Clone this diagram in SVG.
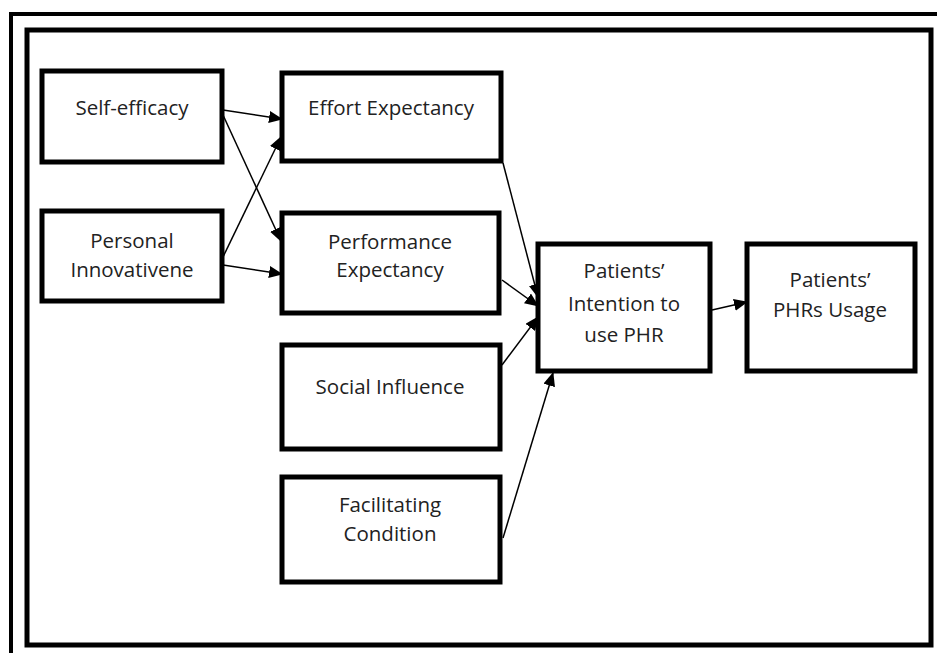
<svg xmlns="http://www.w3.org/2000/svg" width="937" height="653" viewBox="0 0 937 653">
<style>
.box{fill:#fff;stroke:#000;stroke-width:5}
.lbl{font-family:"Open Sans","Noto Sans","Liberation Sans",sans-serif;font-size:20.5px;fill:#222;text-anchor:middle}
.con{stroke:#000;stroke-width:1.5;fill:none;marker-end:url(#ah)}
</style>
<defs>
<marker id="ah" markerUnits="userSpaceOnUse" markerWidth="14" markerHeight="12" refX="13" refY="6" orient="auto">
<path d="M0,0 L14,6 L0,12 Z" fill="#000"/>
</marker>
</defs>
<rect width="937" height="653" fill="#fff"/>
<g id="frame">
<path d="M11,653 V14 H937" fill="none" stroke="#000" stroke-width="4"/>
<rect x="27" y="30" width="904" height="615" fill="none" stroke="#000" stroke-width="5"/>
</g>
<g id="connectors">
<line class="con" x1="223" y1="110" x2="282" y2="119"/>
<line class="con" x1="223" y1="115" x2="281" y2="241"/>
<line class="con" x1="223" y1="257" x2="281" y2="137"/>
<line class="con" x1="223" y1="265" x2="282" y2="274"/>
<line class="con" x1="503" y1="163" x2="538" y2="297"/>
<line class="con" x1="502" y1="280" x2="538" y2="306"/>
<line class="con" x1="502" y1="365" x2="538" y2="317"/>
<line class="con" x1="503" y1="538" x2="553" y2="373"/>
<line class="con" x1="712" y1="310" x2="747" y2="302"/>
</g>
<g id="self-efficacy">
<rect class="box" x="42" y="71" width="180" height="91"/>
<text class="lbl" x="132" y="115">Self-efficacy</text>
</g>
<g id="personal-innovativeness">
<rect class="box" x="42" y="211" width="180" height="90"/>
<text class="lbl" x="132" y="248">Personal</text>
<text class="lbl" x="132" y="277">Innovativene</text>
</g>
<g id="effort-expectancy">
<rect class="box" x="282" y="73" width="219" height="88"/>
<text class="lbl" x="391" y="115">Effort Expectancy</text>
</g>
<g id="performance-expectancy">
<rect class="box" x="282" y="213" width="217" height="100"/>
<text class="lbl" x="390" y="249">Performance</text>
<text class="lbl" x="390" y="277">Expectancy</text>
</g>
<g id="social-influence">
<rect class="box" x="282" y="345" width="218" height="104"/>
<text class="lbl" x="390" y="394">Social Influence</text>
</g>
<g id="facilitating-condition">
<rect class="box" x="282" y="477" width="218" height="105"/>
<text class="lbl" x="390" y="512">Facilitating</text>
<text class="lbl" x="390" y="541">Condition</text>
</g>
<g id="intention">
<rect class="box" x="538" y="244" width="172" height="127"/>
<text class="lbl" x="624" y="278">Patients’</text>
<text class="lbl" x="624" y="311">Intention to</text>
<text class="lbl" x="624" y="342">use PHR</text>
</g>
<g id="usage">
<rect class="box" x="747" y="244" width="168" height="127"/>
<text class="lbl" x="830" y="287">Patients’</text>
<text class="lbl" x="830" y="317">PHRs Usage</text>
</g>
</svg>
